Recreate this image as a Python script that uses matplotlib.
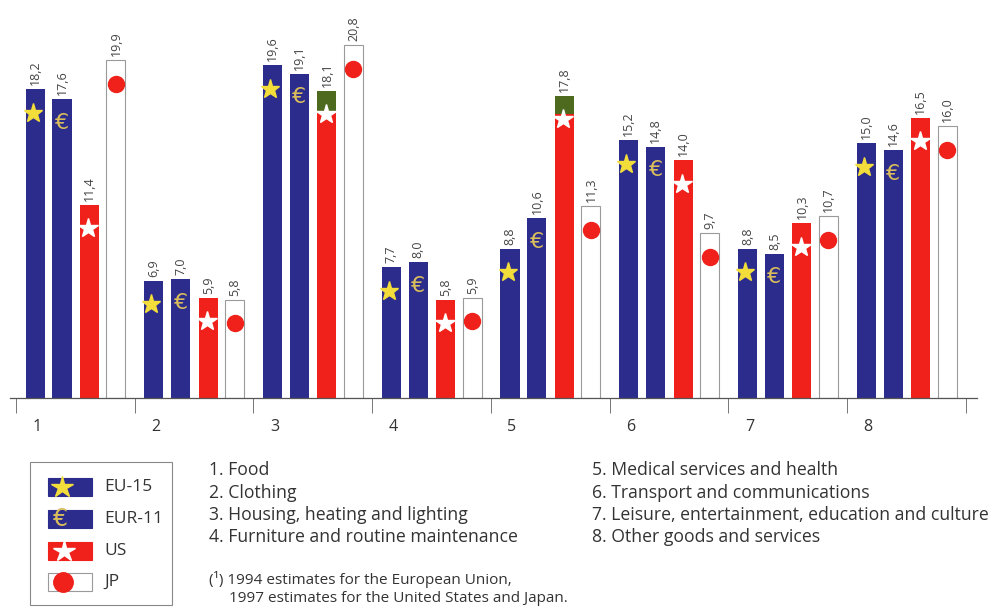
import matplotlib
matplotlib.use("Agg")
import matplotlib.pyplot as plt
from matplotlib.patches import Rectangle
import numpy as np

# ---------------- data ----------------
groups = ["1", "2", "3", "4", "5", "6", "7", "8"]
eu15 = [18.2, 6.9, 19.6, 7.7, 8.8, 15.2, 8.8, 15.0]
eur11 = [17.6, 7.0, 19.1, 8.0, 10.6, 14.8, 8.5, 14.6]
us = [11.4, 5.9, 18.1, 5.8, 17.8, 14.0, 10.3, 16.5]
jp = [19.9, 5.8, 20.8, 5.9, 11.3, 9.7, 10.7, 16.0]
us_green_cap = [0, 0, 1.2, 0, 1.05, 0, 0, 0]
series_names = ["EU-15", "EUR-11", "US", "JP"]
categories = [
    "1. Food",
    "2. Clothing",
    "3. Housing, heating and lighting",
    "4. Furniture and routine maintenance",
    "5. Medical services and health",
    "6. Transport and communications",
    "7. Leisure, entertainment, education and culture",
    "8. Other goods and services",
]
footnote = ["(\u00b9) 1994 estimates for the European Union,",
            "1997 estimates for the United States and Japan."]

# ---------------- style ----------------
BLUE = "#2c2c8c"
RED = "#f0211b"
GREEN = "#4e6a1e"
YELLOW = "#f3dd3a"
GOLD = "#d9bd5c"
TXT = "#333333"
FONT = ["Open Sans", "DejaVu Sans"]
plt.rcParams["font.family"] = FONT

W, H = 1000, 610
fig = plt.figure(figsize=(W / 100, H / 100), dpi=100)

base_px, top_px, left_px, right_px = 398, 20, 10, 977
tick0, gstep = 16, 118.75
ax = fig.add_axes([left_px / W, (H - base_px) / H, (right_px - left_px) / W,
                   (base_px - top_px) / H])
px_per_unit = 16.97
ax.set_ylim(0, (base_px - top_px) / px_per_unit)
ax.set_xlim((left_px - tick0) / gstep, (right_px - tick0) / gstep)

offsets = np.array([19, 46, 73.5, 100]) / gstep
bw = 19 / gstep
x = np.arange(len(groups))
mark_drop = 23.5 / px_per_unit

ax.bar(x + offsets[0], eu15, bw, color=BLUE, zorder=2)
ax.bar(x + offsets[1], eur11, bw, color=BLUE, zorder=2)
ax.bar(x + offsets[2], us, bw, color=RED, zorder=2)
ax.bar(x + offsets[2], us_green_cap, bw, bottom=np.array(us) - np.array(us_green_cap),
       color=GREEN, zorder=2.5)
ax.bar(x + offsets[3], jp, bw, color="white", edgecolor="#9a9a9a", linewidth=0.8, zorder=2)

ax.plot(x + offsets[0] - 0.02, np.array(eu15) - mark_drop, ls="none", marker="*",
        ms=14, color=YELLOW, mec=YELLOW, zorder=3)
for xi, v in zip(x + offsets[1], eur11):
    ax.text(xi, v - mark_drop, "\u20ac", color=GOLD, fontsize=16, ha="center",
            va="center", zorder=3, family="DejaVu Sans")
ax.plot(x + offsets[2] - 0.01, np.array(us) - mark_drop, ls="none", marker="*",
        ms=15, color="white", mec="white", zorder=3)
ax.plot(x + offsets[3], np.array(jp) - mark_drop, ls="none", marker="o",
        ms=11.5, color=RED, mec=RED, zorder=3)

def fmt(v):
    return f"{v:.1f}".replace(".", ",")

for k, vals in enumerate([eu15, eur11, us, jp]):
    for xi, v in zip(x + offsets[k], vals):
        ax.text(xi, v + 4 / px_per_unit, fmt(v), rotation=90, ha="center",
                va="bottom", fontsize=9, color="#444444")

for s in ["top", "right", "left"]:
    ax.spines[s].set_visible(False)
ax.spines["bottom"].set_color("#555555")
ax.spines["bottom"].set_linewidth(0.9)
ax.set_yticks([])
ax.set_xticks(np.arange(len(groups) + 1))
ax.set_xticklabels([])
ax.tick_params(axis="x", direction="out", length=11, width=0.7, color="#777777")
for xi, g in zip(x, groups):
    ax.text(xi + 21 / gstep, -29 / (base_px - top_px), g, transform=ax.get_xaxis_transform(),
            ha="center", va="center", fontsize=11.5, color=TXT)

# ---------------- legend & notes (pixel overlay) ----------------
ov = fig.add_axes([0, 0, 1, 1], facecolor="none")
ov.set_xlim(0, W)
ov.set_ylim(H, 0)
ov.axis("off")
ov.add_patch(Rectangle((30, 462), 142, 143, fill=False, edgecolor="#888888", lw=0.8))
rows_y = [487, 519, 551, 582]
fills = [BLUE, BLUE, RED, "white"]
for yy, fc, name in zip(rows_y, fills, series_names):
    ov.add_patch(Rectangle((48, yy - 9), 44, 18, facecolor=fc,
                           edgecolor="#9a9a9a" if fc == "white" else fc, lw=0.8))
    ov.text(104, yy, name, ha="left", va="center", fontsize=12.5, color=TXT)
ov.plot([62], [rows_y[0]], marker="*", ms=16, color=YELLOW, mec=YELLOW, ls="none")
ov.text(61, rows_y[1], "\u20ac", color=GOLD, fontsize=17, ha="center", va="center",
        family="DejaVu Sans")
ov.plot([64], [rows_y[2]], marker="*", ms=16, color="white", mec="white", ls="none")
ov.plot([63], [rows_y[3]], marker="o", ms=14, color=RED, mec=RED, ls="none")

cat_y = [470, 492.5, 515, 537.5]
for i, c in enumerate(categories[:4]):
    ov.text(209, cat_y[i], c, ha="left", va="center", fontsize=12.7, color=TXT)
for i, c in enumerate(categories[4:]):
    ov.text(592, cat_y[i], c, ha="left", va="center", fontsize=12.7, color=TXT)
ov.text(209, 579, footnote[0], ha="left", va="center", fontsize=11, color=TXT)
ov.text(229, 598, footnote[1], ha="left", va="center", fontsize=11, color=TXT)

fig.savefig("out.png", dpi=100, facecolor="white")
